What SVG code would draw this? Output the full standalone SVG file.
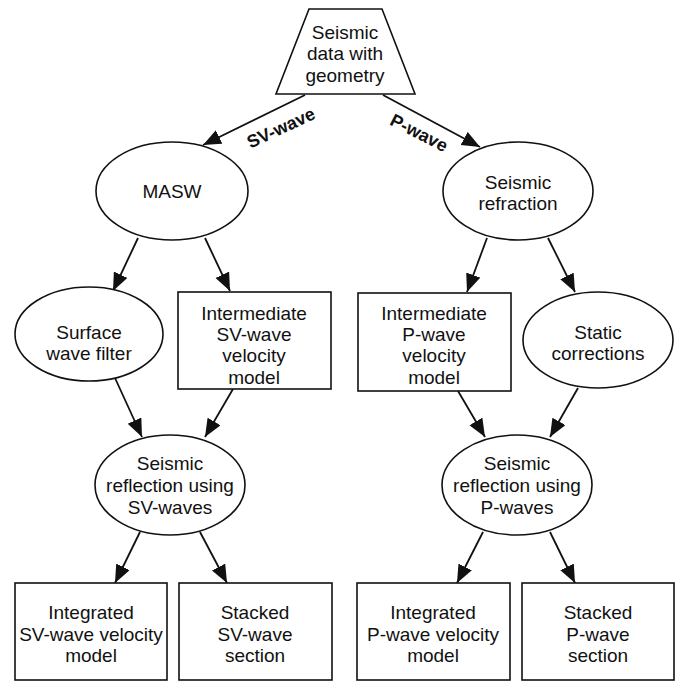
<svg xmlns="http://www.w3.org/2000/svg" width="679" height="682" viewBox="0 0 679 682">
<defs>
<style>
.s{fill:#fff;stroke:#111;stroke-width:1.6}
.t{font-family:"Liberation Sans",Arial,sans-serif;font-size:19px;fill:#111;text-anchor:middle}
.l{font-family:"Liberation Sans",Arial,sans-serif;font-size:18px;font-weight:bold;fill:#111;text-anchor:middle}
.c{stroke:#111;stroke-width:1.8;fill:none;marker-end:url(#ah)}
</style>
<marker id="ah" markerUnits="userSpaceOnUse" markerWidth="20" markerHeight="16" refX="18" refY="7.5" orient="auto">
<path d="M0,0 L18,7.5 L0,15 Z" fill="#111"/>
</marker>
</defs>
<rect width="679" height="682" fill="#fff"/>
<g id="connectors">
<line class="c" x1="305" y1="95" x2="203" y2="145"/>
<line class="c" x1="383" y1="95" x2="480" y2="147"/>
<line class="c" x1="138" y1="238" x2="113" y2="291"/>
<line class="c" x1="205" y1="238" x2="230" y2="291"/>
<line class="c" x1="487" y1="238" x2="467" y2="292"/>
<line class="c" x1="548" y1="238" x2="575" y2="292"/>
<line class="c" x1="115" y1="378" x2="142" y2="437"/>
<line class="c" x1="233" y1="389" x2="205" y2="437"/>
<line class="c" x1="458" y1="391" x2="485" y2="437"/>
<line class="c" x1="578" y1="388" x2="550" y2="437"/>
<line class="c" x1="140" y1="532" x2="115" y2="583"/>
<line class="c" x1="200" y1="532" x2="227" y2="583"/>
<line class="c" x1="483" y1="532" x2="457" y2="583"/>
<line class="c" x1="550" y1="532" x2="575" y2="583"/>
<text class="l" transform="translate(281,128) rotate(-25)" y="6">SV-wave</text>
<text class="l" transform="translate(419,133) rotate(27)" y="6">P-wave</text>
</g>
<g id="seismic-data">
<polygon class="s" points="309,9 382,9 415,94 276,94"/>
<text class="t" x="345" y="39">Seismic</text>
<text class="t" x="345" y="60">data with</text>
<text class="t" x="345" y="82">geometry</text>
</g>
<g id="masw">
<ellipse class="s" cx="172" cy="191" rx="76" ry="49"/>
<text class="t" x="172" y="198">MASW</text>
</g>
<g id="refraction">
<ellipse class="s" cx="518" cy="191" rx="75" ry="49"/>
<text class="t" x="518" y="189">Seismic</text>
<text class="t" x="518" y="210">refraction</text>
</g>
<g id="surface-filter">
<ellipse class="s" cx="89" cy="334" rx="74" ry="47"/>
<text class="t" x="89" y="339">Surface</text>
<text class="t" x="89" y="360">wave filter</text>
</g>
<g id="intermediate-sv">
<rect class="s" x="178" y="292" width="153" height="97"/>
<text class="t" x="254" y="320">Intermediate</text>
<text class="t" x="254" y="341">SV-wave</text>
<text class="t" x="254" y="362">velocity</text>
<text class="t" x="254" y="384">model</text>
</g>
<g id="intermediate-p">
<rect class="s" x="358" y="293" width="153" height="98"/>
<text class="t" x="434" y="320">Intermediate</text>
<text class="t" x="434" y="341">P-wave</text>
<text class="t" x="434" y="362">velocity</text>
<text class="t" x="434" y="384">model</text>
</g>
<g id="static">
<ellipse class="s" cx="598" cy="340" rx="75" ry="48"/>
<text class="t" x="598" y="339">Static</text>
<text class="t" x="598" y="360">corrections</text>
</g>
<g id="reflection-sv">
<ellipse class="s" cx="170" cy="485" rx="75" ry="50"/>
<text class="t" x="170" y="470">Seismic</text>
<text class="t" x="170" y="492">reflection using</text>
<text class="t" x="170" y="514">SV-waves</text>
</g>
<g id="reflection-p">
<ellipse class="s" cx="517" cy="485" rx="75" ry="50"/>
<text class="t" x="517" y="470">Seismic</text>
<text class="t" x="517" y="492">reflection using</text>
<text class="t" x="517" y="514">P-waves</text>
</g>
<g id="integrated-sv">
<rect class="s" x="15" y="583" width="152" height="97"/>
<text class="t" x="91" y="619">Integrated</text>
<text class="t" x="91" y="641">SV-wave velocity</text>
<text class="t" x="91" y="662">model</text>
</g>
<g id="stacked-sv">
<rect class="s" x="179" y="583" width="153" height="97"/>
<text class="t" x="255" y="619">Stacked</text>
<text class="t" x="255" y="641">SV-wave</text>
<text class="t" x="255" y="662">section</text>
</g>
<g id="integrated-p">
<rect class="s" x="357" y="583" width="153" height="97"/>
<text class="t" x="433" y="619">Integrated</text>
<text class="t" x="433" y="641">P-wave velocity</text>
<text class="t" x="433" y="662">model</text>
</g>
<g id="stacked-p">
<rect class="s" x="522" y="583" width="152" height="97"/>
<text class="t" x="598" y="619">Stacked</text>
<text class="t" x="598" y="641">P-wave</text>
<text class="t" x="598" y="662">section</text>
</g>
</svg>
